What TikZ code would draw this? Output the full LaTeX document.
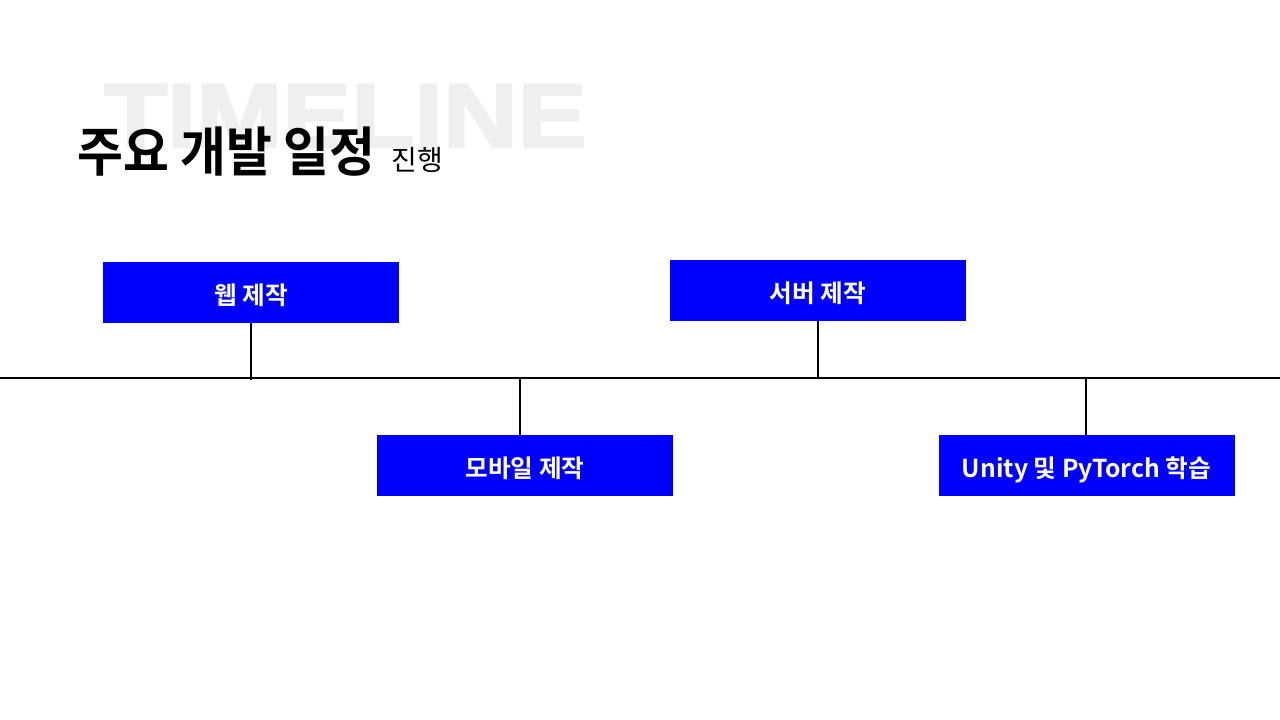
\documentclass[tikz,border=0pt]{standalone}
\usepackage{fontspec}
\newfontfamily\kr{Noto Sans CJK KR}
\newfontfamily\krb{Noto Sans CJK KR Bold}
\newfontfamily\wm[FakeBold=2.5]{Liberation Sans Bold}
\definecolor{boxblue}{HTML}{0000FF}
\definecolor{wmgray}{HTML}{EFEFEF}
\tikzset{
  evbox/.style={fill=boxblue, draw=none, minimum width=296*0.75pt, minimum height=61*0.75pt, inner sep=0pt, text=white, font=\krb\fontsize{18.5}{22}\selectfont, text height=18pt, text depth=0pt},
  tick/.style={draw=black, line width=1.2pt},
}
\begin{document}
\begin{tikzpicture}[x=0.75pt, y=-0.75pt]
\useasboundingbox (0,0) rectangle (1280,720);
% watermark
\node[anchor=base west, inner sep=0pt, text=wmgray, font=\wm\fontsize{68}{68}\selectfont] (wmark) at (104,147) {\scalebox{1.14}[1]{TIMELINE}};
% title
\node[anchor=base west, inner sep=0pt, font=\krb\fontsize{40}{44}\selectfont] (title) at (77,172) {\scalebox{0.935}[1]{주요 개발 일정}};
\node[anchor=base west, inner sep=0pt, font=\kr\fontsize{21}{24}\selectfont] (sub) at (391,171) {진행};
% timeline
\coordinate (tl) at (0,378);
\coordinate (tr) at (1280,378);
\draw[tick] (tl) -- (tr);
% boxes
\node[evbox] (web) at (251,292.5) {웹 제작};
\node[evbox] (server) at (818,290.5) {서버 제작};
\node[evbox] (mobile) at (525,465.5) {모바일 제작};
\node[evbox] (unity) at (1086.5,465.5) {Unity 및 PyTorch 학습};
% connectors
\coordinate (c1) at (251,380);
\coordinate (c2) at (818,378);
\coordinate (c3) at (520,378);
\coordinate (c4) at (1086,378);
\draw[tick] (web.south) -- (c1);
\draw[tick] (server.south) -- (c2);
\draw[tick] (c3) -- (c3 |- mobile.north);
\draw[tick] (c4) -- (c4 |- unity.north);
\end{tikzpicture}
\end{document}
